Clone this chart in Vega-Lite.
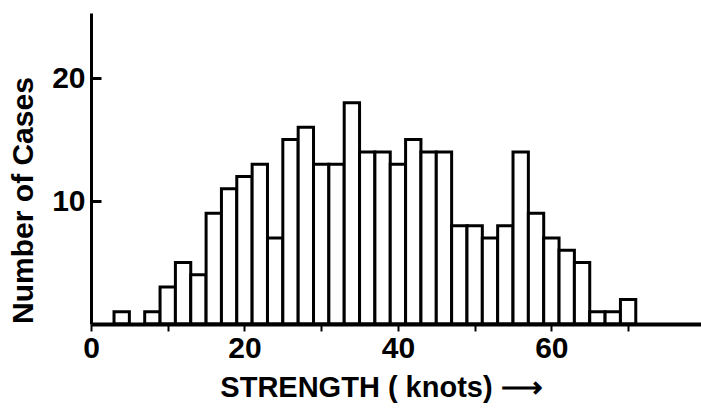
{
  "$schema": "https://vega.github.io/schema/vega-lite/v6.json",
  "width": 610,
  "height": 311,
  "autosize": {"type": "none"},
  "padding": {"left": 91, "top": 13, "right": 0, "bottom": 93},
  "background": "white",
  "config": {"view": {"stroke": null}},
  "data": {
    "values": [
      {"start": 3, "end": 5, "count": 1},
      {"start": 7, "end": 9, "count": 1},
      {"start": 9, "end": 11, "count": 3},
      {"start": 11, "end": 13, "count": 5},
      {"start": 13, "end": 15, "count": 4},
      {"start": 15, "end": 17, "count": 9},
      {"start": 17, "end": 19, "count": 11},
      {"start": 19, "end": 21, "count": 12},
      {"start": 21, "end": 23, "count": 13},
      {"start": 23, "end": 25, "count": 7},
      {"start": 25, "end": 27, "count": 15},
      {"start": 27, "end": 29, "count": 16},
      {"start": 29, "end": 31, "count": 13},
      {"start": 31, "end": 33, "count": 13},
      {"start": 33, "end": 35, "count": 18},
      {"start": 35, "end": 37, "count": 14},
      {"start": 37, "end": 39, "count": 14},
      {"start": 39, "end": 41, "count": 13},
      {"start": 41, "end": 43, "count": 15},
      {"start": 43, "end": 45, "count": 14},
      {"start": 45, "end": 47, "count": 14},
      {"start": 47, "end": 49, "count": 8},
      {"start": 49, "end": 51, "count": 8},
      {"start": 51, "end": 53, "count": 7},
      {"start": 53, "end": 55, "count": 8},
      {"start": 55, "end": 57, "count": 14},
      {"start": 57, "end": 59, "count": 9},
      {"start": 59, "end": 61, "count": 7},
      {"start": 61, "end": 63, "count": 6},
      {"start": 63, "end": 65, "count": 5},
      {"start": 65, "end": 67, "count": 1},
      {"start": 67, "end": 69, "count": 1},
      {"start": 69, "end": 71, "count": 2}
    ]
  },
  "mark": {"type": "bar", "fill": "white", "stroke": "black", "strokeWidth": 3, "clip": false},
  "encoding": {
    "x": {
      "field": "start",
      "type": "quantitative",
      "scale": {"domain": [0, 79.5], "nice": false, "zero": false},
      "axis": {
        "values": [0, 10, 20, 30, 40, 50, 60, 70],
        "labelExpr": "datum.value % 20 == 0 ? datum.label : ''",
        "grid": false,
        "zindex": 1,
        "domainColor": "black",
        "domainWidth": 4,
        "tickColor": "black",
        "tickWidth": 2,
        "tickSize": 7,
        "labelPadding": 2,
        "labelFont": "Liberation Sans",
        "labelFontWeight": "bold",
        "labelFontSize": 30,
        "labelColor": "black",
        "labelFlush": false,
        "title": "STRENGTH ( knots) ⟶",
        "titleFont": "Liberation Sans",
        "titleFontWeight": "bold",
        "titleFontSize": 29,
        "titleColor": "black",
        "titleX": 290,
        "titleY": 72,
        "titleAnchor": "middle",
        "titleAlign": "center",
        "titleBaseline": "alphabetic"
      }
    },
    "x2": {"field": "end"},
    "y": {
      "field": "count",
      "type": "quantitative",
      "scale": {"domain": [0, 25.3], "nice": false},
      "axis": {
        "values": [10, 20],
        "grid": false,
        "zindex": 1,
        "domainColor": "black",
        "domainWidth": 3,
        "tickColor": "black",
        "tickWidth": 3,
        "tickSize": -10,
        "labelPadding": 16,
        "labelFont": "Liberation Sans",
        "labelFontWeight": "bold",
        "labelFontSize": 30,
        "labelColor": "black",
        "labelFlush": false,
        "title": "Number of Cases",
        "titleFont": "Liberation Sans",
        "titleFontWeight": "bold",
        "titleFontSize": 30,
        "titleColor": "black",
        "titleAngle": -90,
        "titleX": -68,
        "titleY": 187,
        "titleAlign": "center",
        "titleBaseline": "middle"
      }
    },
    "y2": {"datum": 0}
  }
}
